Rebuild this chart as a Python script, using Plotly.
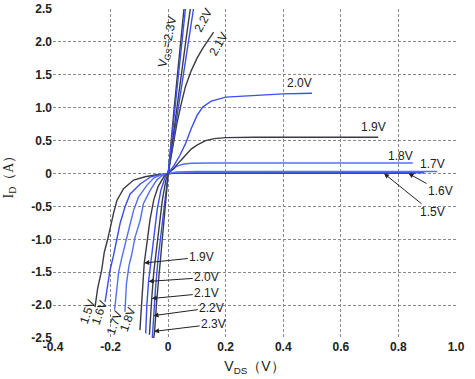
import plotly.graph_objects as go

# ---------------- data ----------------
VGS_LABELS = ["1.5V", "1.6V", "1.7V", "1.8V", "1.9V", "2.0V", "2.1V", "2.2V", "2.3V"]

# negative-VDS branch (VDS, ID) for each VGS
NEG_15_V = [0, -0.04, -0.08, -0.12, -0.155, -0.178, -0.19, -0.202, -0.21, -0.222, -0.231, -0.245, -0.254]
NEG_15_I = [0, -0.02, -0.05, -0.10, -0.23, -0.41, -0.61, -0.82, -1.00, -1.20, -1.47, -1.75, -2.03]
NEG_16_V = [0, -0.03, -0.06, -0.097, -0.132, -0.15, -0.167, -0.178, -0.19, -0.202, -0.213, -0.219]
NEG_16_I = [0, -0.02, -0.05, -0.16, -0.31, -0.51, -0.76, -1.02, -1.25, -1.47, -1.78, -1.95]
NEG_17_V = [0, -0.025, -0.05, -0.074, -0.103, -0.12, -0.135, -0.15, -0.162, -0.172, -0.18, -0.186]
NEG_17_I = [0, -0.02, -0.07, -0.18, -0.36, -0.56, -0.82, -1.07, -1.30, -1.50, -1.78, -2.07]
NEG_18_V = [0, -0.02, -0.04, -0.063, -0.086, -0.097, -0.115, -0.126, -0.136, -0.145, -0.15]
NEG_18_I = [0, -0.03, -0.10, -0.26, -0.46, -0.71, -0.97, -1.22, -1.40, -1.68, -2.10]
NEG_19_V = [0, -0.015, -0.035, -0.05, -0.063, -0.072, -0.083, -0.09, -0.095, -0.098]
NEG_19_I = [0, -0.05, -0.20, -0.40, -0.70, -1.00, -1.36, -1.80, -2.20, -2.38]
NEG_20_V = [0, -0.01, -0.025, -0.038, -0.048, -0.058, -0.068, -0.074, -0.078]
NEG_20_I = [0, -0.05, -0.25, -0.55, -0.90, -1.25, -1.64, -2.00, -2.43]
NEG_21_V = [0, -0.008, -0.02, -0.03, -0.04, -0.05, -0.057, -0.062, -0.065]
NEG_21_I = [0, -0.10, -0.40, -0.75, -1.10, -1.50, -1.90, -2.20, -2.45]
NEG_22_V = [0, -0.006, -0.015, -0.025, -0.035, -0.044, -0.051, -0.055]
NEG_22_I = [0, -0.15, -0.50, -0.90, -1.30, -1.75, -2.16, -2.50]
NEG_23_V = [0, -0.005, -0.012, -0.02, -0.03, -0.04, -0.047, -0.05]
NEG_23_I = [0, -0.20, -0.60, -1.00, -1.45, -1.95, -2.40, -2.50]

# positive-VDS branch
POS_15_V = [0, 0.02, 0.10, 0.86]
POS_15_I = [0, 0.002, 0.003, 0.004]
POS_16_V = [0, 0.02, 0.10, 0.89]
POS_16_I = [0, 0.006, 0.010, 0.012]
POS_17_V = [0, 0.01, 0.03, 0.10, 0.935]
POS_17_I = [0, 0.015, 0.025, 0.030, 0.030]
POS_18_V = [0, 0.01, 0.02, 0.03, 0.05, 0.08, 0.15, 0.85]
POS_18_I = [0, 0.04, 0.08, 0.11, 0.14, 0.155, 0.16, 0.16]
POS_19_V = [0, 0.02, 0.04, 0.06, 0.08, 0.10, 0.13, 0.16, 0.20, 0.30, 0.50, 0.73]
POS_19_I = [0, 0.08, 0.18, 0.28, 0.37, 0.43, 0.50, 0.53, 0.545, 0.55, 0.55, 0.55]
POS_20_V = [0, 0.02, 0.04, 0.06, 0.08, 0.10, 0.12, 0.15, 0.20, 0.30, 0.40, 0.50]
POS_20_I = [0, 0.12, 0.27, 0.45, 0.68, 0.88, 1.01, 1.10, 1.16, 1.19, 1.21, 1.22]
POS_21_V = [0, 0.01, 0.02, 0.03, 0.045, 0.06, 0.08, 0.10, 0.12, 0.14, 0.158]
POS_21_I = [0, 0.25, 0.50, 0.75, 1.05, 1.32, 1.56, 1.75, 1.90, 2.03, 2.15]
POS_22_V = [0, 0.009, 0.018, 0.032, 0.046, 0.06, 0.074, 0.088]
POS_22_I = [0, 0.25, 0.50, 0.90, 1.30, 1.70, 2.10, 2.50]
POS_23_V = [0, 0.005, 0.01, 0.02, 0.03, 0.04, 0.048, 0.055]
POS_23_I = [0, 0.25, 0.50, 0.95, 1.40, 1.85, 2.20, 2.50]
# repeated sweeps visible next to the 2.2 V / 2.3 V curves
POS_22B_V = [0, 0.008, 0.016, 0.028, 0.04, 0.052, 0.064, 0.077]
POS_22B_I = [0, 0.25, 0.50, 0.90, 1.30, 1.70, 2.10, 2.50]
POS_23B_V = [0, 0.006, 0.012, 0.022, 0.033, 0.044, 0.052, 0.06]
POS_23B_I = [0, 0.25, 0.50, 0.95, 1.40, 1.85, 2.20, 2.50]

X_TICKS = [-0.4, -0.2, 0, 0.2, 0.4, 0.6, 0.8, 1.0]
X_TICK_TEXT = ["-0.4", "-0.2", "0", "0.2", "0.4", "0.6", "0.8", "1.0"]
Y_TICKS = [2.5, 2.0, 1.5, 1.0, 0.5, 0, -0.5, -1.0, -1.5, -2.0, -2.5]
Y_TICK_TEXT = ["2.5", "2.0", "1.5", "1.0", "0.5", "0", "-0.5", "-1.0", "-1.5", "-2.0", "-2.5"]

# ---------------- figure ----------------
BLUE = "#3a4ff0"
DARK = "#3b3b47"
LBLUE = "#5470f2"

curves = [
    (NEG_15_V, NEG_15_I, POS_15_V, POS_15_I, DARK),
    (NEG_16_V, NEG_16_I, POS_16_V, POS_16_I, BLUE),
    (NEG_17_V, NEG_17_I, POS_17_V, POS_17_I, LBLUE),
    (NEG_18_V, NEG_18_I, POS_18_V, POS_18_I, LBLUE),
    (NEG_19_V, NEG_19_I, POS_19_V, POS_19_I, DARK),
    (NEG_20_V, NEG_20_I, POS_20_V, POS_20_I, BLUE),
    (NEG_21_V, NEG_21_I, POS_21_V, POS_21_I, DARK),
    (NEG_22_V, NEG_22_I, POS_22_V, POS_22_I, BLUE),
    (NEG_23_V, NEG_23_I, POS_23_V, POS_23_I, DARK),
]

fig = go.Figure()
for (nv, ni, pv, pi, col), name in zip(curves, VGS_LABELS):
    xs = list(reversed(nv)) + pv[1:]
    ys = list(reversed(ni)) + pi[1:]
    fig.add_trace(go.Scatter(x=xs, y=ys, mode="lines", name=name,
                             line=dict(color=col, width=1.4), showlegend=False))
for xv, yv, col in [(POS_22B_V, POS_22B_I, DARK), (POS_23B_V, POS_23B_I, BLUE)]:
    fig.add_trace(go.Scatter(x=xv, y=yv, mode="lines", line=dict(color=col, width=1.4),
                             showlegend=False))

FONT = "Liberation Sans, Arial, sans-serif"
TXT = dict(family=FONT, size=12, color="#222")

# plain labels
plain = [
    ("2.0V", 0.455, 1.37, 0),
    ("1.9V", 0.712, 0.70, 0),
    ("1.8V", 0.807, 0.27, 0),
    ("1.7V", 0.92, 0.15, 0),
    ("V<sub>GS</sub>=2.3V", 0.0, 2.0, -78),
    ("2.2V", 0.123, 2.33, -62),
    ("2.1V", 0.175, 1.97, -60),
    ("1.5V", -0.281, -2.10, -70),
    ("1.6V", -0.237, -2.11, -70),
    ("1.7V", -0.187, -2.27, -70),
    ("1.8V", -0.140, -2.21, -70),
]
for t, x, y, ang in plain:
    fig.add_annotation(x=x, y=y, text=t, showarrow=False, textangle=ang, font=TXT)

# labels with arrows: text at (ax, ay), head at (x, y)
arrows = [
    ("1.9V", 0.117, -1.27, -0.083, -1.36),
    ("2.0V", 0.134, -1.58, -0.068, -1.64),
    ("2.1V", 0.134, -1.82, -0.057, -1.90),
    ("2.2V", 0.152, -2.04, -0.051, -2.16),
    ("2.3V", 0.158, -2.29, -0.049, -2.40),
    ("1.6V", 0.946, -0.27, 0.835, 0.0),
    ("1.5V", 0.917, -0.59, 0.75, 0.0),
]
for t, ax, ay, x, y in arrows:
    fig.add_annotation(x=x, y=y, ax=ax, ay=ay, axref="x", ayref="y", text=t,
                       showarrow=True, arrowhead=2, arrowsize=1, arrowwidth=1,
                       arrowcolor="#222", font=TXT)

axis_common = dict(showgrid=True, gridcolor="#8a8a8a", griddash="3px,2px", gridwidth=1,
                   zeroline=False, showline=False, ticks="", automargin=False,
                   ticklabeloverflow="allow",
                   tickfont=dict(family=FONT, size=12, color="#222", weight="bold"))

fig.update_xaxes(range=[-0.4, 1.0], tickvals=X_TICKS, ticktext=X_TICK_TEXT,
                 title=dict(text="V<sub>DS</sub>（V）", standoff=8,
                            font=dict(family=FONT, size=14, color="#222")),
                 **axis_common)
fig.update_yaxes(range=[-2.5, 2.5], tickvals=Y_TICKS, ticktext=Y_TICK_TEXT,
                 title=dict(text="I<sub>D</sub>（A）", standoff=14,
                            font=dict(family="Liberation Serif, Times New Roman, serif", size=14, color="#222")),
                 **axis_common)

fig.update_layout(width=475, height=379, margin=dict(l=53, r=19, t=9, b=41),
                  plot_bgcolor="white", paper_bgcolor="white", showlegend=False)

# remove the default page margin so the figure sits at the window's top-left corner
fig.write_html("out.html", config={"displayModeBar": False},
               post_script="document.body.style.margin='0px';")
